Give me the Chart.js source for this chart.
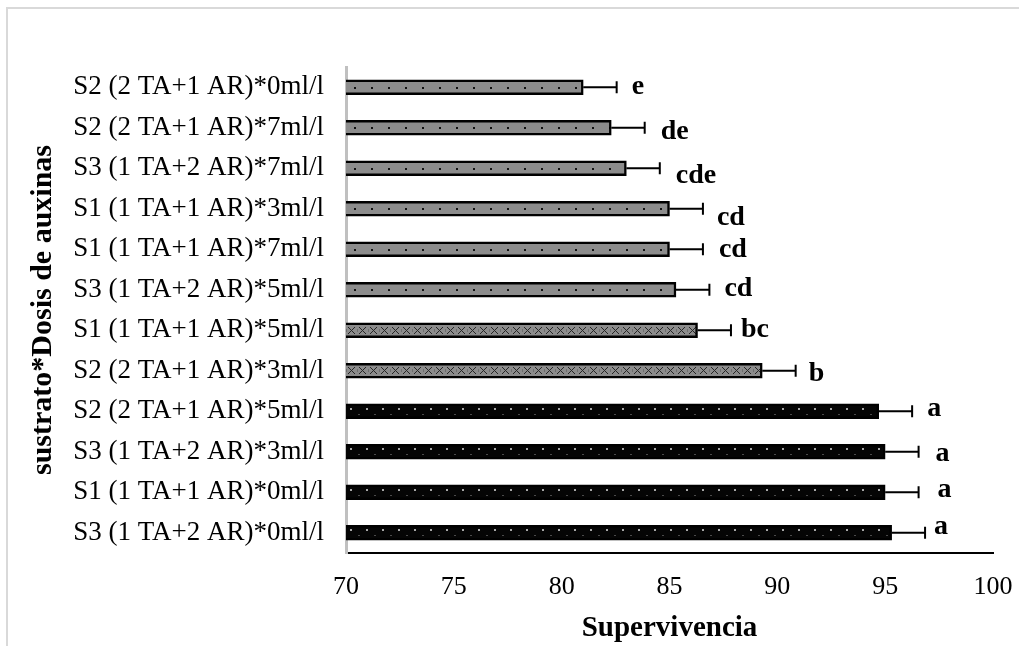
<!DOCTYPE html>
<html>
<head>
<meta charset="utf-8">
<script src="https://cdn.jsdelivr.net/npm/chart.js@4/dist/chart.umd.min.js"></script>
<style>
  html, body { margin: 0; padding: 0; background: #fff; overflow: hidden; }
  #wrap { position: relative; width: 1019px; height: 646px; overflow: hidden; }
  #frame { position: absolute; left: 6px; top: 7px; width: 1100px; height: 700px;
           border-left: 2px solid #d9d9d9; border-top: 2px solid #d9d9d9;
           box-sizing: border-box; pointer-events: none; }
  canvas { position: absolute; left: 0; top: 0; }
</style>
</head>
<body>
<div id="wrap">
  <div id="frame"></div>
  <canvas id="c" width="1019" height="646"></canvas>
</div>
<script>
// Treatments (substrate * auxin dose), listed top to bottom
const categories = [
  'S2 (2 TA+1 AR)*0ml/l',
  'S2 (2 TA+1 AR)*7ml/l',
  'S3 (1 TA+2 AR)*7ml/l',
  'S1 (1 TA+1 AR)*3ml/l',
  'S1 (1 TA+1 AR)*7ml/l',
  'S3 (1 TA+2 AR)*5ml/l',
  'S1 (1 TA+1 AR)*5ml/l',
  'S2 (2 TA+1 AR)*3ml/l',
  'S2 (2 TA+1 AR)*5ml/l',
  'S3 (1 TA+2 AR)*3ml/l',
  'S1 (1 TA+1 AR)*0ml/l',
  'S3 (1 TA+2 AR)*0ml/l'
];
// Mean survival (%)
const survival = [81.0, 82.3, 83.0, 85.0, 85.0, 85.3, 86.3, 89.3, 94.7, 95.0, 95.0, 95.3];
// Standard error
const stdError = [1.55, 1.55, 1.55, 1.55, 1.55, 1.55, 1.55, 1.55, 1.55, 1.55, 1.55, 1.55];
// Mean separation letters
const letters = ['e', 'de', 'cde', 'cd', 'cd', 'cd', 'bc', 'b', 'a', 'a', 'a', 'a'];
// Fill group of each bar
const fillGroup = ['dots', 'dots', 'dots', 'dots', 'dots', 'dots', 'cross', 'cross', 'dark', 'dark', 'dark', 'dark'];
// Axis range
const xMin = 70, xMax = 100, xStep = 5;

const BAR = 15;
const SERIF = '"Liberation Serif", "Times New Roman", serif';

function makeTile(w, h, draw) {
  const c = document.createElement('canvas');
  c.width = w; c.height = h;
  draw(c.getContext('2d'), w, h);
  return c;
}
const tiles = {
  dots: makeTile(17, BAR, (g, w, h) => {
    g.fillStyle = '#8c8c8c'; g.fillRect(0, 0, w, h);
    g.fillStyle = '#111'; g.fillRect(8, 7, 2, 2);
  }),
  cross: makeTile(11, BAR, (g, w, h) => {
    g.fillStyle = '#8c8c8c'; g.fillRect(0, 0, w, h);
    g.fillStyle = '#262626';
    for (let i = -3; i <= 3; i++) {
      g.fillRect(5 + i, 7 + i, 1, 1);
      g.fillRect(5 + i, 7 - i, 1, 1);
    }
    g.fillStyle = '#6e6e6e';
    g.fillRect(0, 6, 1, 3);
  }),
  dark: makeTile(16, BAR, (g, w, h) => {
    g.fillStyle = '#050505'; g.fillRect(0, 0, w, h);
    g.fillStyle = '#a6a6a6'; g.fillRect(4, 4, 2, 2);
    g.fillStyle = '#4a4a4a'; g.fillRect(12, 10, 2, 1);
  })
};

function barFill(ctx) {
  const chart = ctx.chart;
  const i = ctx.dataIndex;
  if (i === undefined) return '#888';
  const tile = tiles[fillGroup[i]];
  const ys = chart.scales && chart.scales.y;
  const pat = chart.ctx.createPattern(tile, 'repeat');
  if (ys && typeof ys.getPixelForValue === 'function') {
    const top = Math.round(ys.getPixelForValue(i) - BAR / 2);
    const left = Math.round(chart.chartArea ? chart.chartArea.left : 0);
    pat.setTransform(new DOMMatrix([1, 0, 0, 1, left, top]));
  }
  return pat;
}

// Error bars (positive side) and significance letters
const errorAndLetters = {
  id: 'errorAndLetters',
  afterDatasetsDraw(chart, args, opts) {
    const ctx = chart.ctx;
    const xs = chart.scales.x;
    const meta = chart.getDatasetMeta(0);
    ctx.save();
    meta.data.forEach((bar, i) => {
      const x0 = bar.x;
      const x1 = xs.getPixelForValue(survival[i] + stdError[i]);
      const y = bar.y;
      ctx.strokeStyle = '#000';
      ctx.lineWidth = 2;
      ctx.beginPath();
      ctx.moveTo(x0, y); ctx.lineTo(x1, y);
      ctx.moveTo(x1, y - 6); ctx.lineTo(x1, y + 6);
      ctx.stroke();
      const n = opts.nudge[i] || [0, 0];
      ctx.fillStyle = '#000';
      ctx.font = 'bold 28px ' + SERIF;
      ctx.textAlign = 'left';
      ctx.textBaseline = 'alphabetic';
      ctx.fillText(letters[i], x1 + opts.gap + n[0], y + 6.5 + n[1]);
    });
    ctx.restore();
  }
};

new Chart(document.getElementById('c'), {
  type: 'bar',
  data: {
    labels: categories,
    datasets: [{
      data: survival,
      backgroundColor: barFill,
      borderColor: '#000',
      borderWidth: 2.5,
      borderSkipped: false,
      barThickness: BAR
    }]
  },
  options: {
    indexAxis: 'y',
    responsive: false,
    animation: false,
    layout: { padding: { left: 0, right: 26, top: 67, bottom: 0 } },
    plugins: {
      legend: { display: false },
      tooltip: { enabled: false },
      errorAndLetters: {
        gap: 15,
        nudge: [[0, 0], [1, 5], [1, 8], [-1, 10], [1, 1], [0, 0], [-5, 0], [-2, 4], [0, -2], [2, 3], [4, -2], [-6, -5]]
      }
    },
    scales: {
      x: {
        min: xMin, max: xMax,
        afterFit: s => { s.height = 93; s.paddingLeft = 0; s.paddingRight = 0; },
        grid: { display: false, drawTicks: false },
        border: { display: true, color: '#000', width: 2 },
        ticks: {
          stepSize: xStep, padding: 19, maxRotation: 0, color: '#000',
          font: { family: SERIF, size: 26 }
        },
        title: {
          display: true, text: 'Supervivencia', color: '#000',
          padding: { top: 0, bottom: 0 },
          font: { family: SERIF, size: 29, weight: 'bold' }
        }
      },
      y: {
        afterFit: s => { s.width = 346; s.paddingTop = 0; s.paddingBottom = 0; },
        grid: { display: false, drawTicks: false },
        border: { display: true, color: '#c0c0c0', width: 3 },
        ticks: {
          autoSkip: false, padding: 22, color: '#000',
          font: { family: SERIF, size: 27 }
        },
        title: {
          display: true, text: 'sustrato*Dosis de auxinas', color: '#000',
          padding: { top: 25, bottom: 0 },
          font: { family: SERIF, size: 30, weight: 'bold' }
        }
      }
    }
  },
  plugins: [errorAndLetters]
});
</script>
</body>
</html>
